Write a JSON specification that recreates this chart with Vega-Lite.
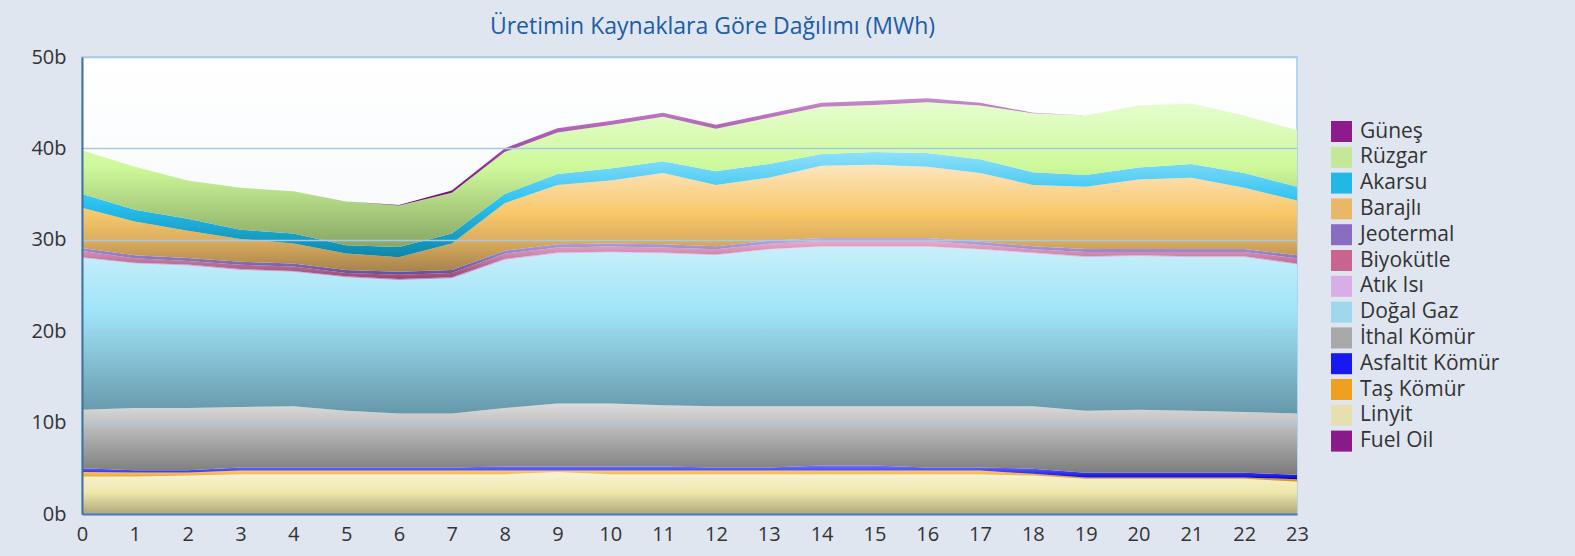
{
  "$schema": "https://vega.github.io/schema/vega-lite/v6.json",
  "autosize": "none",
  "width": 1215,
  "height": 457,
  "padding": {"left": 82, "top": 57, "right": 278, "bottom": 42},
  "background": "#dfe6f0",
  "title": {"text": "Üretimin Kaynaklara Göre Dağılımı (MWh)", "font": "Open Sans", "fontSize": 23, "fontWeight": "normal", "color": "#1c5ca6", "anchor": "middle", "dx": 23, "offset": 8},
  "config": {
    "font": "Open Sans",
    "view": {"stroke": "#a6cbe9", "strokeWidth": 1.5, "fill": {"gradient": "linear", "x1": 0, "y1": 0, "x2": 0, "y2": 1, "stops": [{"offset": 0, "color": "#ffffff"}, {"offset": 1, "color": "#e9eff7"}]}},
    "legend": {"orient": "none", "legendX": 1249, "legendY": 64, "symbolType": "square", "symbolSize": 441, "symbolStrokeWidth": 0, "symbolOpacity": 1, "labelFont": "Open Sans", "labelFontSize": 21, "labelColor": "#333333", "labelOffset": 8, "rowPadding": 3.8, "padding": 0}
  },
  "data": {"values": [
    {"saat":0,"kaynak":"Fuel Oil","uretim":0.05},{"saat":1,"kaynak":"Fuel Oil","uretim":0.05},{"saat":2,"kaynak":"Fuel Oil","uretim":0.05},{"saat":3,"kaynak":"Fuel Oil","uretim":0.05},{"saat":4,"kaynak":"Fuel Oil","uretim":0.05},{"saat":5,"kaynak":"Fuel Oil","uretim":0.05},{"saat":6,"kaynak":"Fuel Oil","uretim":0.05},{"saat":7,"kaynak":"Fuel Oil","uretim":0.05},{"saat":8,"kaynak":"Fuel Oil","uretim":0.05},{"saat":9,"kaynak":"Fuel Oil","uretim":0.05},{"saat":10,"kaynak":"Fuel Oil","uretim":0.05},{"saat":11,"kaynak":"Fuel Oil","uretim":0.05},{"saat":12,"kaynak":"Fuel Oil","uretim":0.05},{"saat":13,"kaynak":"Fuel Oil","uretim":0.05},{"saat":14,"kaynak":"Fuel Oil","uretim":0.05},{"saat":15,"kaynak":"Fuel Oil","uretim":0.05},{"saat":16,"kaynak":"Fuel Oil","uretim":0.05},{"saat":17,"kaynak":"Fuel Oil","uretim":0.05},{"saat":18,"kaynak":"Fuel Oil","uretim":0.05},{"saat":19,"kaynak":"Fuel Oil","uretim":0.05},{"saat":20,"kaynak":"Fuel Oil","uretim":0.05},{"saat":21,"kaynak":"Fuel Oil","uretim":0.05},{"saat":22,"kaynak":"Fuel Oil","uretim":0.05},{"saat":23,"kaynak":"Fuel Oil","uretim":0.05},
    {"saat":0,"kaynak":"Linyit","uretim":4.05},{"saat":1,"kaynak":"Linyit","uretim":4.05},{"saat":2,"kaynak":"Linyit","uretim":4.15},{"saat":3,"kaynak":"Linyit","uretim":4.31},{"saat":4,"kaynak":"Linyit","uretim":4.31},{"saat":5,"kaynak":"Linyit","uretim":4.31},{"saat":6,"kaynak":"Linyit","uretim":4.31},{"saat":7,"kaynak":"Linyit","uretim":4.31},{"saat":8,"kaynak":"Linyit","uretim":4.31},{"saat":9,"kaynak":"Linyit","uretim":4.55},{"saat":10,"kaynak":"Linyit","uretim":4.31},{"saat":11,"kaynak":"Linyit","uretim":4.31},{"saat":12,"kaynak":"Linyit","uretim":4.31},{"saat":13,"kaynak":"Linyit","uretim":4.31},{"saat":14,"kaynak":"Linyit","uretim":4.31},{"saat":15,"kaynak":"Linyit","uretim":4.31},{"saat":16,"kaynak":"Linyit","uretim":4.31},{"saat":17,"kaynak":"Linyit","uretim":4.3},{"saat":18,"kaynak":"Linyit","uretim":4.15},{"saat":19,"kaynak":"Linyit","uretim":3.8},{"saat":20,"kaynak":"Linyit","uretim":3.8},{"saat":21,"kaynak":"Linyit","uretim":3.8},{"saat":22,"kaynak":"Linyit","uretim":3.8},{"saat":23,"kaynak":"Linyit","uretim":3.5},
    {"saat":0,"kaynak":"Taş Kömür","uretim":0.5},{"saat":1,"kaynak":"Taş Kömür","uretim":0.45},{"saat":2,"kaynak":"Taş Kömür","uretim":0.35},{"saat":3,"kaynak":"Taş Kömür","uretim":0.4},{"saat":4,"kaynak":"Taş Kömür","uretim":0.4},{"saat":5,"kaynak":"Taş Kömür","uretim":0.4},{"saat":6,"kaynak":"Taş Kömür","uretim":0.4},{"saat":7,"kaynak":"Taş Kömür","uretim":0.4},{"saat":8,"kaynak":"Taş Kömür","uretim":0.4},{"saat":9,"kaynak":"Taş Kömür","uretim":0.16},{"saat":10,"kaynak":"Taş Kömür","uretim":0.4},{"saat":11,"kaynak":"Taş Kömür","uretim":0.4},{"saat":12,"kaynak":"Taş Kömür","uretim":0.4},{"saat":13,"kaynak":"Taş Kömür","uretim":0.4},{"saat":14,"kaynak":"Taş Kömür","uretim":0.4},{"saat":15,"kaynak":"Taş Kömür","uretim":0.4},{"saat":16,"kaynak":"Taş Kömür","uretim":0.39},{"saat":17,"kaynak":"Taş Kömür","uretim":0.4},{"saat":18,"kaynak":"Taş Kömür","uretim":0.2},{"saat":19,"kaynak":"Taş Kömür","uretim":0.15},{"saat":20,"kaynak":"Taş Kömür","uretim":0.15},{"saat":21,"kaynak":"Taş Kömür","uretim":0.15},{"saat":22,"kaynak":"Taş Kömür","uretim":0.15},{"saat":23,"kaynak":"Taş Kömür","uretim":0.25},
    {"saat":0,"kaynak":"Asfaltit Kömür","uretim":0.4},{"saat":1,"kaynak":"Asfaltit Kömür","uretim":0.25},{"saat":2,"kaynak":"Asfaltit Kömür","uretim":0.25},{"saat":3,"kaynak":"Asfaltit Kömür","uretim":0.34},{"saat":4,"kaynak":"Asfaltit Kömür","uretim":0.34},{"saat":5,"kaynak":"Asfaltit Kömür","uretim":0.34},{"saat":6,"kaynak":"Asfaltit Kömür","uretim":0.34},{"saat":7,"kaynak":"Asfaltit Kömür","uretim":0.34},{"saat":8,"kaynak":"Asfaltit Kömür","uretim":0.44},{"saat":9,"kaynak":"Asfaltit Kömür","uretim":0.44},{"saat":10,"kaynak":"Asfaltit Kömür","uretim":0.44},{"saat":11,"kaynak":"Asfaltit Kömür","uretim":0.44},{"saat":12,"kaynak":"Asfaltit Kömür","uretim":0.34},{"saat":13,"kaynak":"Asfaltit Kömür","uretim":0.34},{"saat":14,"kaynak":"Asfaltit Kömür","uretim":0.54},{"saat":15,"kaynak":"Asfaltit Kömür","uretim":0.54},{"saat":16,"kaynak":"Asfaltit Kömür","uretim":0.35},{"saat":17,"kaynak":"Asfaltit Kömür","uretim":0.35},{"saat":18,"kaynak":"Asfaltit Kömür","uretim":0.55},{"saat":19,"kaynak":"Asfaltit Kömür","uretim":0.5},{"saat":20,"kaynak":"Asfaltit Kömür","uretim":0.5},{"saat":21,"kaynak":"Asfaltit Kömür","uretim":0.5},{"saat":22,"kaynak":"Asfaltit Kömür","uretim":0.5},{"saat":23,"kaynak":"Asfaltit Kömür","uretim":0.5},
    {"saat":0,"kaynak":"İthal Kömür","uretim":6.4},{"saat":1,"kaynak":"İthal Kömür","uretim":6.8},{"saat":2,"kaynak":"İthal Kömür","uretim":6.8},{"saat":3,"kaynak":"İthal Kömür","uretim":6.6},{"saat":4,"kaynak":"İthal Kömür","uretim":6.7},{"saat":5,"kaynak":"İthal Kömür","uretim":6.2},{"saat":6,"kaynak":"İthal Kömür","uretim":5.9},{"saat":7,"kaynak":"İthal Kömür","uretim":5.9},{"saat":8,"kaynak":"İthal Kömür","uretim":6.4},{"saat":9,"kaynak":"İthal Kömür","uretim":6.9},{"saat":10,"kaynak":"İthal Kömür","uretim":6.9},{"saat":11,"kaynak":"İthal Kömür","uretim":6.7},{"saat":12,"kaynak":"İthal Kömür","uretim":6.7},{"saat":13,"kaynak":"İthal Kömür","uretim":6.7},{"saat":14,"kaynak":"İthal Kömür","uretim":6.5},{"saat":15,"kaynak":"İthal Kömür","uretim":6.5},{"saat":16,"kaynak":"İthal Kömür","uretim":6.7},{"saat":17,"kaynak":"İthal Kömür","uretim":6.7},{"saat":18,"kaynak":"İthal Kömür","uretim":6.85},{"saat":19,"kaynak":"İthal Kömür","uretim":6.8},{"saat":20,"kaynak":"İthal Kömür","uretim":6.9},{"saat":21,"kaynak":"İthal Kömür","uretim":6.8},{"saat":22,"kaynak":"İthal Kömür","uretim":6.65},{"saat":23,"kaynak":"İthal Kömür","uretim":6.7},
    {"saat":0,"kaynak":"Doğal Gaz","uretim":16.6},{"saat":1,"kaynak":"Doğal Gaz","uretim":15.8},{"saat":2,"kaynak":"Doğal Gaz","uretim":15.6},{"saat":3,"kaynak":"Doğal Gaz","uretim":15.0},{"saat":4,"kaynak":"Doğal Gaz","uretim":14.7},{"saat":5,"kaynak":"Doğal Gaz","uretim":14.6},{"saat":6,"kaynak":"Doğal Gaz","uretim":14.6},{"saat":7,"kaynak":"Doğal Gaz","uretim":14.8},{"saat":8,"kaynak":"Doğal Gaz","uretim":16.2},{"saat":9,"kaynak":"Doğal Gaz","uretim":16.4},{"saat":10,"kaynak":"Doğal Gaz","uretim":16.5},{"saat":11,"kaynak":"Doğal Gaz","uretim":16.6},{"saat":12,"kaynak":"Doğal Gaz","uretim":16.5},{"saat":13,"kaynak":"Doğal Gaz","uretim":17.1},{"saat":14,"kaynak":"Doğal Gaz","uretim":17.4},{"saat":15,"kaynak":"Doğal Gaz","uretim":17.4},{"saat":16,"kaynak":"Doğal Gaz","uretim":17.4},{"saat":17,"kaynak":"Doğal Gaz","uretim":17.1},{"saat":18,"kaynak":"Doğal Gaz","uretim":16.7},{"saat":19,"kaynak":"Doğal Gaz","uretim":16.8},{"saat":20,"kaynak":"Doğal Gaz","uretim":16.8},{"saat":21,"kaynak":"Doğal Gaz","uretim":16.8},{"saat":22,"kaynak":"Doğal Gaz","uretim":16.95},{"saat":23,"kaynak":"Doğal Gaz","uretim":16.3},
    {"saat":0,"kaynak":"Atık Isı","uretim":0.1},{"saat":1,"kaynak":"Atık Isı","uretim":0.1},{"saat":2,"kaynak":"Atık Isı","uretim":0.1},{"saat":3,"kaynak":"Atık Isı","uretim":0.1},{"saat":4,"kaynak":"Atık Isı","uretim":0.1},{"saat":5,"kaynak":"Atık Isı","uretim":0.1},{"saat":6,"kaynak":"Atık Isı","uretim":0.1},{"saat":7,"kaynak":"Atık Isı","uretim":0.1},{"saat":8,"kaynak":"Atık Isı","uretim":0.1},{"saat":9,"kaynak":"Atık Isı","uretim":0.1},{"saat":10,"kaynak":"Atık Isı","uretim":0.1},{"saat":11,"kaynak":"Atık Isı","uretim":0.1},{"saat":12,"kaynak":"Atık Isı","uretim":0.1},{"saat":13,"kaynak":"Atık Isı","uretim":0.1},{"saat":14,"kaynak":"Atık Isı","uretim":0.1},{"saat":15,"kaynak":"Atık Isı","uretim":0.1},{"saat":16,"kaynak":"Atık Isı","uretim":0.1},{"saat":17,"kaynak":"Atık Isı","uretim":0.1},{"saat":18,"kaynak":"Atık Isı","uretim":0.1},{"saat":19,"kaynak":"Atık Isı","uretim":0.1},{"saat":20,"kaynak":"Atık Isı","uretim":0.1},{"saat":21,"kaynak":"Atık Isı","uretim":0.1},{"saat":22,"kaynak":"Atık Isı","uretim":0.1},{"saat":23,"kaynak":"Atık Isı","uretim":0.1},
    {"saat":0,"kaynak":"Biyokütle","uretim":0.67},{"saat":1,"kaynak":"Biyokütle","uretim":0.47},{"saat":2,"kaynak":"Biyokütle","uretim":0.37},{"saat":3,"kaynak":"Biyokütle","uretim":0.47},{"saat":4,"kaynak":"Biyokütle","uretim":0.47},{"saat":5,"kaynak":"Biyokütle","uretim":0.37},{"saat":6,"kaynak":"Biyokütle","uretim":0.47},{"saat":7,"kaynak":"Biyokütle","uretim":0.47},{"saat":8,"kaynak":"Biyokütle","uretim":0.57},{"saat":9,"kaynak":"Biyokütle","uretim":0.57},{"saat":10,"kaynak":"Biyokütle","uretim":0.57},{"saat":11,"kaynak":"Biyokütle","uretim":0.57},{"saat":12,"kaynak":"Biyokütle","uretim":0.57},{"saat":13,"kaynak":"Biyokütle","uretim":0.57},{"saat":14,"kaynak":"Biyokütle","uretim":0.57},{"saat":15,"kaynak":"Biyokütle","uretim":0.57},{"saat":16,"kaynak":"Biyokütle","uretim":0.57},{"saat":17,"kaynak":"Biyokütle","uretim":0.47},{"saat":18,"kaynak":"Biyokütle","uretim":0.37},{"saat":19,"kaynak":"Biyokütle","uretim":0.47},{"saat":20,"kaynak":"Biyokütle","uretim":0.37},{"saat":21,"kaynak":"Biyokütle","uretim":0.47},{"saat":22,"kaynak":"Biyokütle","uretim":0.47},{"saat":23,"kaynak":"Biyokütle","uretim":0.57},
    {"saat":0,"kaynak":"Jeotermal","uretim":0.33},{"saat":1,"kaynak":"Jeotermal","uretim":0.33},{"saat":2,"kaynak":"Jeotermal","uretim":0.33},{"saat":3,"kaynak":"Jeotermal","uretim":0.33},{"saat":4,"kaynak":"Jeotermal","uretim":0.33},{"saat":5,"kaynak":"Jeotermal","uretim":0.33},{"saat":6,"kaynak":"Jeotermal","uretim":0.33},{"saat":7,"kaynak":"Jeotermal","uretim":0.33},{"saat":8,"kaynak":"Jeotermal","uretim":0.33},{"saat":9,"kaynak":"Jeotermal","uretim":0.33},{"saat":10,"kaynak":"Jeotermal","uretim":0.33},{"saat":11,"kaynak":"Jeotermal","uretim":0.33},{"saat":12,"kaynak":"Jeotermal","uretim":0.33},{"saat":13,"kaynak":"Jeotermal","uretim":0.33},{"saat":14,"kaynak":"Jeotermal","uretim":0.33},{"saat":15,"kaynak":"Jeotermal","uretim":0.33},{"saat":16,"kaynak":"Jeotermal","uretim":0.33},{"saat":17,"kaynak":"Jeotermal","uretim":0.33},{"saat":18,"kaynak":"Jeotermal","uretim":0.33},{"saat":19,"kaynak":"Jeotermal","uretim":0.33},{"saat":20,"kaynak":"Jeotermal","uretim":0.33},{"saat":21,"kaynak":"Jeotermal","uretim":0.33},{"saat":22,"kaynak":"Jeotermal","uretim":0.33},{"saat":23,"kaynak":"Jeotermal","uretim":0.33},
    {"saat":0,"kaynak":"Barajlı","uretim":4.4},{"saat":1,"kaynak":"Barajlı","uretim":3.7},{"saat":2,"kaynak":"Barajlı","uretim":3.0},{"saat":3,"kaynak":"Barajlı","uretim":2.5},{"saat":4,"kaynak":"Barajlı","uretim":2.2},{"saat":5,"kaynak":"Barajlı","uretim":1.8},{"saat":6,"kaynak":"Barajlı","uretim":1.6},{"saat":7,"kaynak":"Barajlı","uretim":2.9},{"saat":8,"kaynak":"Barajlı","uretim":5.2},{"saat":9,"kaynak":"Barajlı","uretim":6.5},{"saat":10,"kaynak":"Barajlı","uretim":6.9},{"saat":11,"kaynak":"Barajlı","uretim":7.8},{"saat":12,"kaynak":"Barajlı","uretim":6.7},{"saat":13,"kaynak":"Barajlı","uretim":6.9},{"saat":14,"kaynak":"Barajlı","uretim":7.9},{"saat":15,"kaynak":"Barajlı","uretim":8.0},{"saat":16,"kaynak":"Barajlı","uretim":7.8},{"saat":17,"kaynak":"Barajlı","uretim":7.5},{"saat":18,"kaynak":"Barajlı","uretim":6.7},{"saat":19,"kaynak":"Barajlı","uretim":6.8},{"saat":20,"kaynak":"Barajlı","uretim":7.6},{"saat":21,"kaynak":"Barajlı","uretim":7.8},{"saat":22,"kaynak":"Barajlı","uretim":6.7},{"saat":23,"kaynak":"Barajlı","uretim":6.0},
    {"saat":0,"kaynak":"Akarsu","uretim":1.5},{"saat":1,"kaynak":"Akarsu","uretim":1.3},{"saat":2,"kaynak":"Akarsu","uretim":1.3},{"saat":3,"kaynak":"Akarsu","uretim":1.0},{"saat":4,"kaynak":"Akarsu","uretim":1.1},{"saat":5,"kaynak":"Akarsu","uretim":0.9},{"saat":6,"kaynak":"Akarsu","uretim":1.1},{"saat":7,"kaynak":"Akarsu","uretim":1.1},{"saat":8,"kaynak":"Akarsu","uretim":1.0},{"saat":9,"kaynak":"Akarsu","uretim":1.2},{"saat":10,"kaynak":"Akarsu","uretim":1.3},{"saat":11,"kaynak":"Akarsu","uretim":1.3},{"saat":12,"kaynak":"Akarsu","uretim":1.5},{"saat":13,"kaynak":"Akarsu","uretim":1.5},{"saat":14,"kaynak":"Akarsu","uretim":1.3},{"saat":15,"kaynak":"Akarsu","uretim":1.4},{"saat":16,"kaynak":"Akarsu","uretim":1.5},{"saat":17,"kaynak":"Akarsu","uretim":1.5},{"saat":18,"kaynak":"Akarsu","uretim":1.4},{"saat":19,"kaynak":"Akarsu","uretim":1.3},{"saat":20,"kaynak":"Akarsu","uretim":1.3},{"saat":21,"kaynak":"Akarsu","uretim":1.5},{"saat":22,"kaynak":"Akarsu","uretim":1.6},{"saat":23,"kaynak":"Akarsu","uretim":1.5},
    {"saat":0,"kaynak":"Rüzgar","uretim":4.8},{"saat":1,"kaynak":"Rüzgar","uretim":4.7},{"saat":2,"kaynak":"Rüzgar","uretim":4.2},{"saat":3,"kaynak":"Rüzgar","uretim":4.6},{"saat":4,"kaynak":"Rüzgar","uretim":4.6},{"saat":5,"kaynak":"Rüzgar","uretim":4.8},{"saat":6,"kaynak":"Rüzgar","uretim":4.55},{"saat":7,"kaynak":"Rüzgar","uretim":4.45},{"saat":8,"kaynak":"Rüzgar","uretim":4.6},{"saat":9,"kaynak":"Rüzgar","uretim":4.55},{"saat":10,"kaynak":"Rüzgar","uretim":4.75},{"saat":11,"kaynak":"Rüzgar","uretim":4.85},{"saat":12,"kaynak":"Rüzgar","uretim":4.65},{"saat":13,"kaynak":"Rüzgar","uretim":5.05},{"saat":14,"kaynak":"Rüzgar","uretim":5.15},{"saat":15,"kaynak":"Rüzgar","uretim":5.15},{"saat":16,"kaynak":"Rüzgar","uretim":5.55},{"saat":17,"kaynak":"Rüzgar","uretim":5.9},{"saat":18,"kaynak":"Rüzgar","uretim":6.45},{"saat":19,"kaynak":"Rüzgar","uretim":6.5},{"saat":20,"kaynak":"Rüzgar","uretim":6.8},{"saat":21,"kaynak":"Rüzgar","uretim":6.6},{"saat":22,"kaynak":"Rüzgar","uretim":6.3},{"saat":23,"kaynak":"Rüzgar","uretim":6.2},
    {"saat":0,"kaynak":"Güneş","uretim":0},{"saat":1,"kaynak":"Güneş","uretim":0},{"saat":2,"kaynak":"Güneş","uretim":0},{"saat":3,"kaynak":"Güneş","uretim":0},{"saat":4,"kaynak":"Güneş","uretim":0},{"saat":5,"kaynak":"Güneş","uretim":0},{"saat":6,"kaynak":"Güneş","uretim":0.05},{"saat":7,"kaynak":"Güneş","uretim":0.25},{"saat":8,"kaynak":"Güneş","uretim":0.4},{"saat":9,"kaynak":"Güneş","uretim":0.45},{"saat":10,"kaynak":"Güneş","uretim":0.45},{"saat":11,"kaynak":"Güneş","uretim":0.45},{"saat":12,"kaynak":"Güneş","uretim":0.45},{"saat":13,"kaynak":"Güneş","uretim":0.45},{"saat":14,"kaynak":"Güneş","uretim":0.45},{"saat":15,"kaynak":"Güneş","uretim":0.45},{"saat":16,"kaynak":"Güneş","uretim":0.45},{"saat":17,"kaynak":"Güneş","uretim":0.3},{"saat":18,"kaynak":"Güneş","uretim":0.05},{"saat":19,"kaynak":"Güneş","uretim":0},{"saat":20,"kaynak":"Güneş","uretim":0},{"saat":21,"kaynak":"Güneş","uretim":0},{"saat":22,"kaynak":"Güneş","uretim":0},{"saat":23,"kaynak":"Güneş","uretim":0}
  ]},
  "transform": [{"stack": "uretim", "groupby": ["saat"], "as": ["alt", "ust"]}],
  "encoding": {
    "x": {"field": "saat", "type": "quantitative", "scale": {"domain": [0, 23], "nice": false},
      "axis": {"title": null, "values": [0,1,2,3,4,5,6,7,8,9,10,11,12,13,14,15,16,17,18,19,20,21,22,23], "grid": false, "ticks": false, "labelFontSize": 20, "labelColor": "#333333", "labelPadding": 10, "labelFlush": false, "domainColor": "#4a7db3", "domainWidth": 2, "zindex": 1}},
    "y": {"field": "ust", "type": "quantitative", "scale": {"domain": [0, 50], "nice": false},
      "axis": {"title": null, "values": [0,10,20,30,40,50], "labelExpr": "datum.value + 'b'", "grid": true, "gridColor": "#a6c9e8", "gridWidth": 1.5, "ticks": false, "labelFontSize": 20, "labelColor": "#333333", "labelPadding": 16, "domainColor": "#44709b", "domainWidth": 2, "zindex": 1}},
    "y2": {"field": "alt"}
  },
  "layer": [
    {"transform": [{"filter": "datum.kaynak === 'Fuel Oil'"}], "mark": {"type": "area", "fill": "#8a1a8a"}},
    {"transform": [{"filter": "datum.kaynak === 'Linyit'"}], "mark": {"type": "area", "fill": {"gradient": "linear", "x1": 0, "y1": 0, "x2": 0, "y2": 1, "stops": [{"offset": 0, "color": "#f8f4d6"}, {"offset": 0.5, "color": "#eee7aa"}, {"offset": 1, "color": "#b0a87c"}]}}},
    {"transform": [{"filter": "datum.kaynak === 'Taş Kömür'"}], "mark": {"type": "area", "fill": {"gradient": "linear", "x1": 0, "y1": 0, "x2": 0, "y2": 1, "stops": [{"offset": 0, "color": "#ffca72"}, {"offset": 1, "color": "#e08c00"}]}}},
    {"transform": [{"filter": "datum.kaynak === 'Asfaltit Kömür'"}], "mark": {"type": "area", "fill": {"gradient": "linear", "x1": 0, "y1": 0, "x2": 0, "y2": 1, "stops": [{"offset": 0, "color": "#7272ff"}, {"offset": 1, "color": "#0000d8"}]}}},
    {"transform": [{"filter": "datum.kaynak === 'İthal Kömür'"}], "mark": {"type": "area", "fill": {"gradient": "linear", "x1": 0, "y1": 0, "x2": 0, "y2": 1, "stops": [{"offset": 0, "color": "#dcdcdc"}, {"offset": 1, "color": "#7a7a7a"}]}}},
    {"transform": [{"filter": "datum.kaynak === 'Doğal Gaz'"}], "mark": {"type": "area", "fill": {"gradient": "linear", "x1": 0, "y1": 0, "x2": 0, "y2": 1, "stops": [{"offset": 0, "color": "#c8effb"}, {"offset": 0.4, "color": "#9fe3f8"}, {"offset": 1, "color": "#6698aa"}]}}},
    {"transform": [{"filter": "datum.kaynak === 'Atık Isı'"}], "mark": {"type": "area", "fill": {"gradient": "linear", "x1": 0, "y1": 0, "x2": 0, "y2": 1, "stops": [{"offset": 0, "color": "#ecc8f4"}, {"offset": 1, "color": "#bb8ecb"}]}}},
    {"transform": [{"filter": "datum.kaynak === 'Biyokütle'"}], "mark": {"type": "area", "fill": {"gradient": "linear", "x1": 0, "y1": 0, "x2": 0, "y2": 1, "stops": [{"offset": 0, "color": "#eaaccb"}, {"offset": 1, "color": "#984670"}]}}},
    {"transform": [{"filter": "datum.kaynak === 'Jeotermal'"}], "mark": {"type": "area", "fill": {"gradient": "linear", "x1": 0, "y1": 0, "x2": 0, "y2": 1, "stops": [{"offset": 0, "color": "#b6a8e8"}, {"offset": 1, "color": "#684a9c"}]}}},
    {"transform": [{"filter": "datum.kaynak === 'Barajlı'"}], "mark": {"type": "area", "fill": {"gradient": "linear", "x1": 0, "y1": 0, "x2": 0, "y2": 1, "stops": [{"offset": 0, "color": "#fde5bf"}, {"offset": 0.45, "color": "#f8c86a"}, {"offset": 0.7, "color": "#dcae5e"}, {"offset": 1, "color": "#a6824c"}]}}},
    {"transform": [{"filter": "datum.kaynak === 'Akarsu'"}], "mark": {"type": "area", "fill": {"gradient": "linear", "x1": 0, "y1": 0, "x2": 0, "y2": 1, "stops": [{"offset": 0, "color": "#90e0fa"}, {"offset": 0.5, "color": "#28c0f0"}, {"offset": 1, "color": "#0d86a6"}]}}},
    {"transform": [{"filter": "datum.kaynak === 'Rüzgar'"}], "mark": {"type": "area", "fill": {"gradient": "linear", "x1": 0, "y1": 0, "x2": 0, "y2": 1, "stops": [{"offset": 0, "color": "#e6fdd0"}, {"offset": 0.45, "color": "#cdf99a"}, {"offset": 1, "color": "#88a664"}]}}},
    {"transform": [{"filter": "datum.kaynak === 'Güneş'"}], "mark": {"type": "area", "fill": {"gradient": "linear", "x1": 0, "y1": 0, "x2": 0, "y2": 1, "stops": [{"offset": 0, "color": "#c888cc"}, {"offset": 0.5, "color": "#a048a8"}, {"offset": 1, "color": "#6c006c"}]}}},
    {"transform": [{"filter": "datum.uretim < 0"}], "mark": {"type": "point", "shape": "square", "filled": true, "opacity": 1},
      "encoding": {"color": {"field": "kaynak", "type": "nominal", "title": null,
        "scale": {"domain": ["Güneş","Rüzgar","Akarsu","Barajlı","Jeotermal","Biyokütle","Atık Isı","Doğal Gaz","İthal Kömür","Asfaltit Kömür","Taş Kömür","Linyit","Fuel Oil"],
                  "range": ["#8c1c8c","#c4e89a","#22b8e6","#e8b868","#8a6cc2","#c8648e","#d8aee6","#9fd8ea","#a8a8a8","#1818f0","#f0a020","#e6e0b0","#8a1a8a"]}}}}
  ]
}
